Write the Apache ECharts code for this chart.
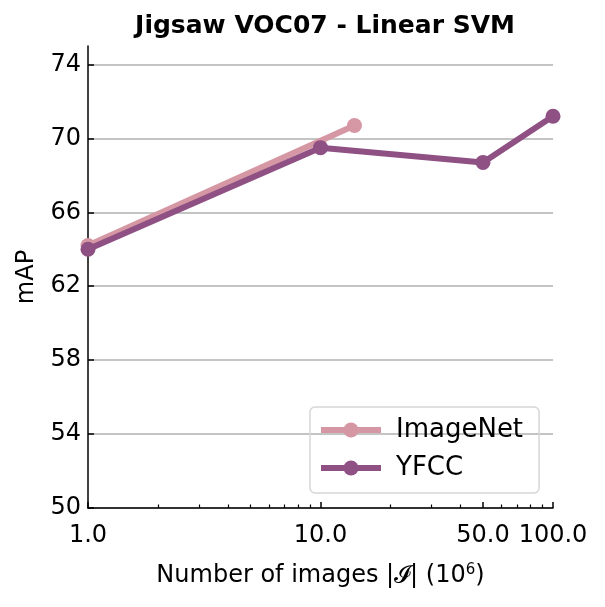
<!DOCTYPE html>
<html>
<head>
<meta charset="utf-8">
<script src="https://cdn.jsdelivr.net/npm/echarts@6/dist/echarts.min.js"></script>
<style>html,body{margin:0;padding:0;background:#fff}#c{width:605px;height:607px}</style>
</head>
<body>
<div id="c"></div>
<script>
const imagenetX = [1, 14];
const imagenetY = [64.2, 70.7];
const yfccX = [1, 10, 50, 100];
const yfccY = [64.0, 69.5, 68.7, 71.2];
const xMajorTicks = [1, 10, 50, 100];
const xMinorTicks = [2, 3, 4, 5, 6, 7, 8, 9, 20, 30, 40, 60, 70, 80, 90];
const yTicks = [50, 54, 58, 62, 66, 70, 74];

const font = 'DejaVu Sans';
const chart = echarts.init(document.getElementById('c'), null, {renderer: 'canvas'});
chart.setOption({
  animation: false,
  title: {
    text: 'Jigsaw VOC07 - Linear SVM',
    left: 320, top: 9, textAlign: 'center',
    textStyle: {fontFamily: font, fontWeight: 'bold', fontSize: 25, color: '#000'}
  },
  grid: {left: 88, right: 52, top: 46, bottom: 99, containLabel: false},
  legend: {
    left: 310, top: 407,
    orient: 'vertical',
    padding: [8, 16, 10, 8],
    itemGap: 8,
    itemWidth: 60, itemHeight: 19,
    borderColor: '#d6d6d6', borderWidth: 1.5, borderRadius: 5,
    lineStyle: {width: 6},
    textStyle: {fontFamily: font, fontSize: 26, color: '#000', padding: [0, 0, 0, 10], lineHeight: 30},
    data: ['ImageNet', 'YFCC']
  },
  xAxis: [{
    type: 'log', logBase: 10, min: 1, max: 100,
    name: 'Number of images |\u{1D4D8}| (10{sup|6})',
    nameLocation: 'middle', nameGap: 55,
    nameTextStyle: {fontFamily: font, fontSize: 24, color: '#000',
      rich: {sup: {fontFamily: font, fontSize: 15, color: '#000', verticalAlign: 'top', padding: [0, 0, 10, 0]}}},
    axisLine: {onZero: false, lineStyle: {color: '#000', width: 1.5}},
    axisTick: {inside: true, length: 6, lineStyle: {color: '#000', width: 1.5}, customValues: xMajorTicks},
    axisLabel: {customValues: xMajorTicks, fontFamily: font, fontSize: 24, color: '#000', margin: 16,
      formatter: v => Number(v).toFixed(1)},
    splitLine: {show: false},
    minorTick: {show: false}
  }, {
    type: 'log', logBase: 10, min: 1, max: 100, position: 'bottom',
    axisLine: {show: false},
    axisTick: {inside: true, length: 3.5, lineStyle: {color: '#000', width: 1.2}, customValues: xMinorTicks},
    axisLabel: {show: false},
    splitLine: {show: false}
  }],
  yAxis: {
    type: 'value', min: 50, max: 75,
    name: 'mAP', nameLocation: 'middle', nameGap: 49,
    nameTextStyle: {fontFamily: font, fontSize: 24, color: '#000'},
    axisLine: {show: true, lineStyle: {color: '#000', width: 1.5}},
    axisTick: {show: true, inside: true, length: 6, lineStyle: {color: '#000', width: 1.5}, customValues: yTicks},
    axisLabel: {customValues: yTicks, fontFamily: font, fontSize: 24, color: '#000', margin: 7},
    splitLine: {show: true, lineStyle: {color: '#b0b0b0', width: 1.5}}
  },
  series: [{
    name: 'ImageNet', type: 'line',
    data: imagenetX.map((x, i) => [x, imagenetY[i]]),
    color: '#d597a3',
    symbol: 'circle', symbolSize: 15,
    lineStyle: {width: 6, color: '#d597a3'},
    itemStyle: {color: '#d597a3'},
    z: 2
  }, {
    name: 'YFCC', type: 'line',
    data: yfccX.map((x, i) => [x, yfccY[i]]),
    color: '#8f5084',
    symbol: 'circle', symbolSize: 15,
    lineStyle: {width: 6, color: '#8f5084'},
    itemStyle: {color: '#8f5084'},
    z: 3
  }]
});
</script>
</body>
</html>
